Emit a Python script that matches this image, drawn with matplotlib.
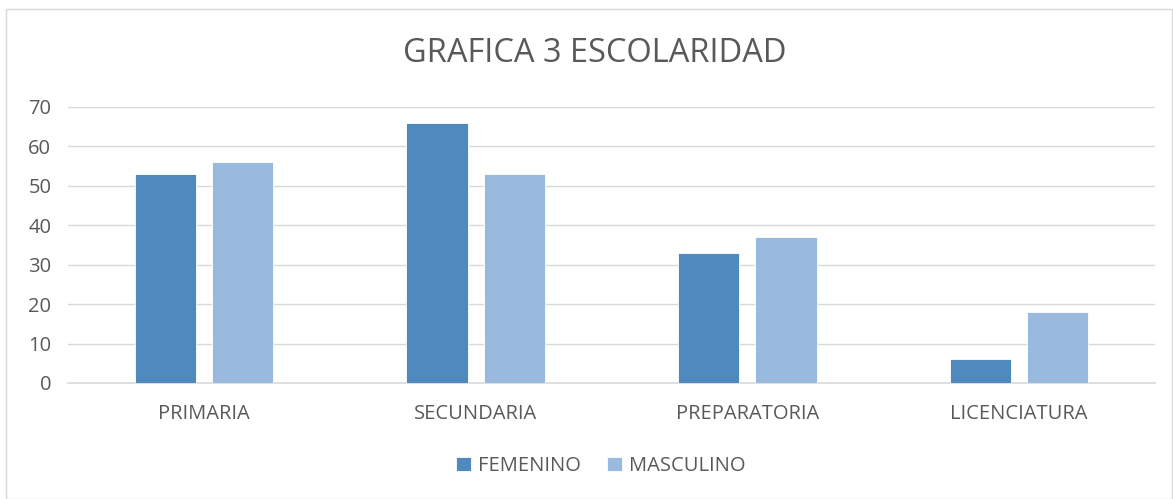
import numpy as np
import matplotlib.pyplot as plt
from matplotlib.patches import Rectangle

# datos de la grafica
categorias = ["PRIMARIA", "SECUNDARIA", "PREPARATORIA", "LICENCIATURA"]
femenino = [53, 66, 33, 6]
masculino = [56, 53, 37, 18]
marcas_y = [0, 10, 20, 30, 40, 50, 60, 70]

plt.rcParams['font.family'] = ['Open Sans', 'DejaVu Sans']

gris = "#595959"
azul = "#4F89BD"
azul_claro = "#9AB9DF"

fig = plt.figure(figsize=(11.73, 4.99), dpi=100)
ax = fig.add_axes([68/1173, 1 - 383/499, (1155-68)/1173, (383-107)/499])

x = np.arange(len(categorias))
ancho = 0.225
ax.bar(x - 0.142, femenino, ancho, color=azul, edgecolor="white", linewidth=0.6, label="FEMENINO", zorder=3)
ax.bar(x + 0.142, masculino, ancho, color=azul_claro, edgecolor="white", linewidth=0.6, label="MASCULINO", zorder=3)

ax.set_xlim(-0.5, 3.5)
ax.set_ylim(0, 70)
ax.set_yticks(marcas_y)
ax.set_xticks(x)
ax.set_xticklabels(categorias)
ax.tick_params(axis="both", length=0, labelsize=14.5, colors=gris)
ax.tick_params(axis="x", pad=15)
ax.tick_params(axis="y", pad=12)
ax.grid(axis="y", color="#D9D9D9", linewidth=1, zorder=0)
for s in ["top", "right", "left"]:
    ax.spines[s].set_visible(False)
ax.spines["bottom"].set_color("#D9D9D9")
ax.spines["bottom"].set_linewidth(1.2)

fig.text(595/1173, 1 - 53/499, "GRAFICA 3 ESCOLARIDAD", ha="center", va="center", fontsize=23.5, color=gris)

ax.legend(loc="center", bbox_to_anchor=(0.512, 1 - 466/499), bbox_transform=fig.transFigure,
          ncol=2, frameon=False, fontsize=14.5, labelcolor=gris,
          handlelength=0.75, handleheight=0.75, handletextpad=0.35, columnspacing=1.3)

# borde del grafico
fig.patches.append(Rectangle((6/1173, 0.0), 1 - 7/1173, 1 - 9/499, transform=fig.transFigure,
                             fill=False, edgecolor="#D9D9D9", linewidth=1))

fig.savefig("out.png", dpi=100)
